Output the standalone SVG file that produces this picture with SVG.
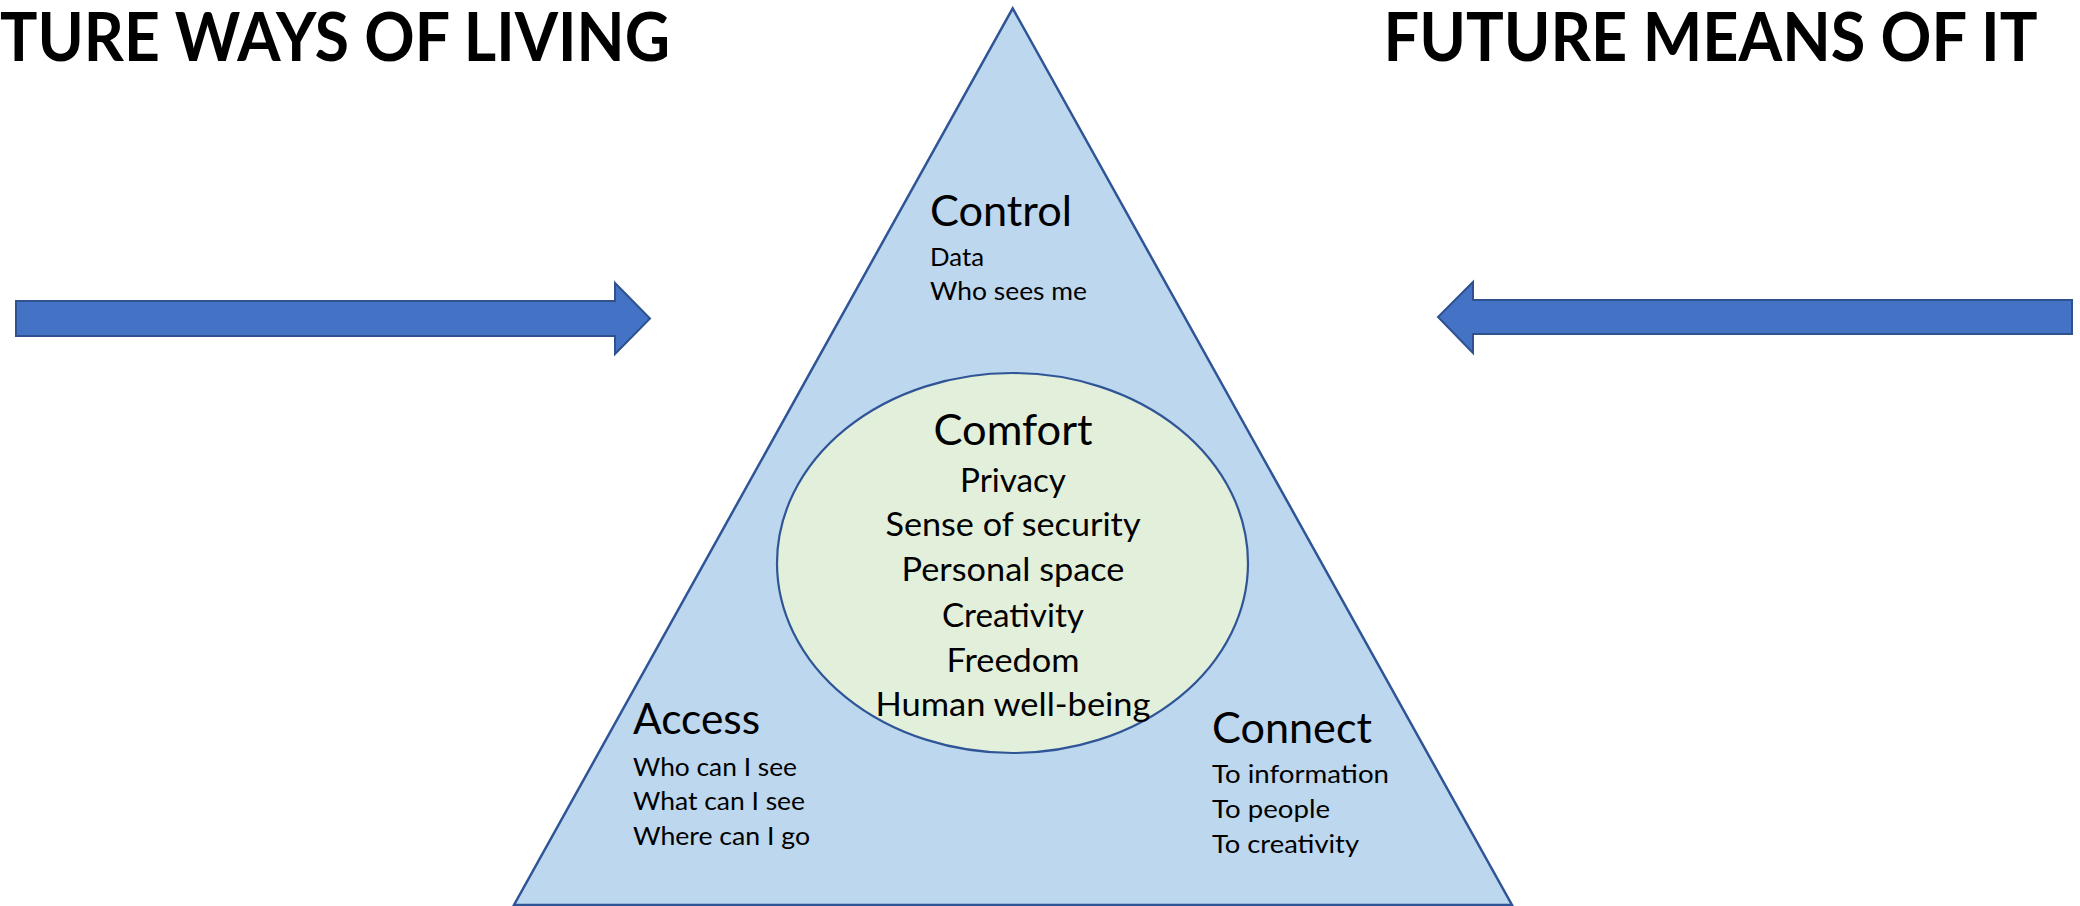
<svg xmlns="http://www.w3.org/2000/svg" width="2080" height="906" viewBox="0 0 2080 906">
<style>
text{font-family:"Lato","Liberation Sans",sans-serif;fill:#000}
.title{font-size:67px;font-weight:700}
.head{font-size:43px}
.sub{font-size:25px}
.mid{font-size:32.5px;text-anchor:middle}
.arrow{fill:#4472C4;stroke:#2F528F;stroke-width:2;stroke-linejoin:miter}
</style>
<rect width="2080" height="906" fill="#fff"/>
<g id="titles">
<text class="title" x="0" y="61" textLength="670" lengthAdjust="spacingAndGlyphs">TURE WAYS OF LIVING</text>
<text class="title" x="1383.5" y="61" textLength="654" lengthAdjust="spacingAndGlyphs">FUTURE MEANS OF IT</text>
</g>
<g id="connectors">
<path class="arrow" d="M16,301 L615,301 L615,283 L650,318.5 L615,354 L615,336 L16,336 Z"/>
<path class="arrow" d="M2072,300 L1473,300 L1473,282 L1438,317 L1473,353 L1473,334 L2072,334 Z"/>
</g>
<g id="triangle">
<path d="M1012.7,8.3 L1512,905 L514,905 Z" fill="#BDD7EE" stroke="#2F5597" stroke-width="2.5" stroke-linejoin="miter"/>
</g>
<g id="control">
<text class="head" x="930" y="226" textLength="142" lengthAdjust="spacingAndGlyphs">Control</text>
<text class="sub" x="930" y="266" textLength="54" lengthAdjust="spacingAndGlyphs">Data</text>
<text class="sub" x="930" y="300" textLength="157" lengthAdjust="spacingAndGlyphs">Who sees me</text>
</g>
<g id="comfort">
<ellipse cx="1012.5" cy="563" rx="235.5" ry="190" fill="#E2EFDA" stroke="#2F5597" stroke-width="2.2"/>
<text class="head" x="1013" y="445" text-anchor="middle" textLength="159" lengthAdjust="spacingAndGlyphs">Comfort</text>
<text class="mid" x="1013" y="492" textLength="106" lengthAdjust="spacingAndGlyphs">Privacy</text>
<text class="mid" x="1013" y="536" textLength="255" lengthAdjust="spacingAndGlyphs">Sense of security</text>
<text class="mid" x="1013" y="581" textLength="223" lengthAdjust="spacingAndGlyphs">Personal space</text>
<text class="mid" x="1013" y="627" textLength="142" lengthAdjust="spacingAndGlyphs">Creativity</text>
<text class="mid" x="1013" y="672" textLength="133" lengthAdjust="spacingAndGlyphs">Freedom</text>
<text class="mid" x="1013" y="716" textLength="275" lengthAdjust="spacingAndGlyphs">Human well-being</text>
</g>
<g id="access">
<text class="head" x="633" y="734" textLength="127" lengthAdjust="spacingAndGlyphs">Access</text>
<text class="sub" x="633" y="776" textLength="164" lengthAdjust="spacingAndGlyphs">Who can I see</text>
<text class="sub" x="633" y="810" textLength="172" lengthAdjust="spacingAndGlyphs">What can I see</text>
<text class="sub" x="633" y="845" textLength="177" lengthAdjust="spacingAndGlyphs">Where can I go</text>
</g>
<g id="connect">
<text class="head" x="1212" y="743" textLength="160" lengthAdjust="spacingAndGlyphs">Connect</text>
<text class="sub" x="1212" y="783" textLength="177" lengthAdjust="spacingAndGlyphs">To information</text>
<text class="sub" x="1212" y="818" textLength="118" lengthAdjust="spacingAndGlyphs">To people</text>
<text class="sub" x="1212" y="853" textLength="147" lengthAdjust="spacingAndGlyphs">To creativity</text>
</g>
</svg>
